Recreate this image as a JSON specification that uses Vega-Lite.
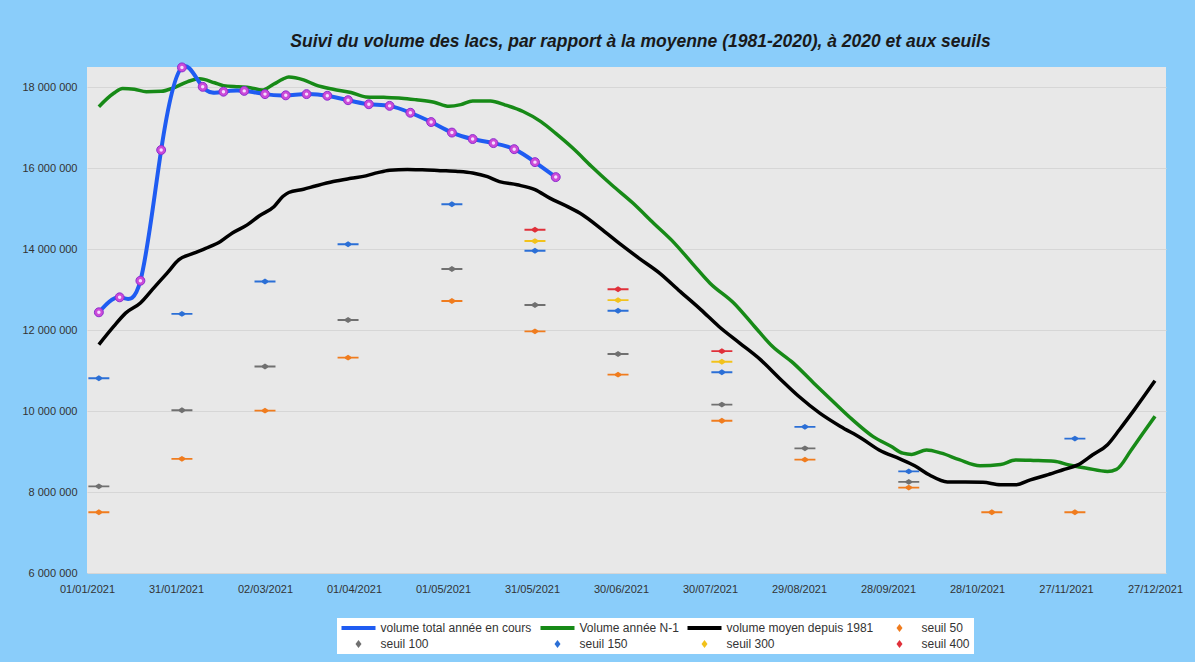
{
  "$schema": "https://vega.github.io/schema/vega-lite/v6.json",
  "width": 1079,
  "height": 506,
  "autosize": {"type": "none"},
  "padding": {"left": 87, "top": 67, "right": 29, "bottom": 89},
  "background": "#8acdfa",
  "title": {
    "text": "Suivi du volume des lacs, par rapport à la moyenne (1981-2020), à 2020 et aux seuils",
    "font": "Liberation Sans",
    "fontSize": 17.5,
    "fontStyle": "italic",
    "fontWeight": "bold",
    "color": "#1a1a1a",
    "anchor": "middle",
    "dx": 14,
    "offset": 8
  },
  "datasets": {
    "legende": [
      {"serie": "volume total année en cours"},
      {"serie": "Volume année N-1"},
      {"serie": "volume moyen depuis 1981"},
      {"serie": "seuil 50"},
      {"serie": "seuil 100"},
      {"serie": "seuil 150"},
      {"serie": "seuil 300"},
      {"serie": "seuil 400"}
    ],
    "courbes": [
      {"date": "2021-01-05", "serie": "volume total année en cours", "volume": 12440000},
      {"date": "2021-01-12", "serie": "volume total année en cours", "volume": 12810000},
      {"date": "2021-01-19", "serie": "volume total année en cours", "volume": 13220000},
      {"date": "2021-01-26", "serie": "volume total année en cours", "volume": 16450000},
      {"date": "2021-02-02", "serie": "volume total année en cours", "volume": 18490000},
      {"date": "2021-02-09", "serie": "volume total année en cours", "volume": 18010000},
      {"date": "2021-02-16", "serie": "volume total année en cours", "volume": 17890000},
      {"date": "2021-02-23", "serie": "volume total année en cours", "volume": 17910000},
      {"date": "2021-03-02", "serie": "volume total année en cours", "volume": 17830000},
      {"date": "2021-03-09", "serie": "volume total année en cours", "volume": 17800000},
      {"date": "2021-03-16", "serie": "volume total année en cours", "volume": 17830000},
      {"date": "2021-03-23", "serie": "volume total année en cours", "volume": 17790000},
      {"date": "2021-03-30", "serie": "volume total année en cours", "volume": 17680000},
      {"date": "2021-04-06", "serie": "volume total année en cours", "volume": 17580000},
      {"date": "2021-04-13", "serie": "volume total année en cours", "volume": 17540000},
      {"date": "2021-04-20", "serie": "volume total année en cours", "volume": 17370000},
      {"date": "2021-04-27", "serie": "volume total année en cours", "volume": 17140000},
      {"date": "2021-05-04", "serie": "volume total année en cours", "volume": 16880000},
      {"date": "2021-05-11", "serie": "volume total année en cours", "volume": 16720000},
      {"date": "2021-05-18", "serie": "volume total année en cours", "volume": 16620000},
      {"date": "2021-05-25", "serie": "volume total année en cours", "volume": 16470000},
      {"date": "2021-06-01", "serie": "volume total année en cours", "volume": 16150000},
      {"date": "2021-06-08", "serie": "volume total année en cours", "volume": 15780000},

      {"date": "2021-01-05", "serie": "Volume année N-1", "volume": 17520000},
      {"date": "2021-01-10", "serie": "Volume année N-1", "volume": 17850000},
      {"date": "2021-01-13", "serie": "Volume année N-1", "volume": 17970000},
      {"date": "2021-01-17", "serie": "Volume année N-1", "volume": 17950000},
      {"date": "2021-01-21", "serie": "Volume année N-1", "volume": 17890000},
      {"date": "2021-01-26", "serie": "Volume année N-1", "volume": 17900000},
      {"date": "2021-01-30", "serie": "Volume année N-1", "volume": 17980000},
      {"date": "2021-02-04", "serie": "Volume année N-1", "volume": 18140000},
      {"date": "2021-02-08", "serie": "Volume année N-1", "volume": 18210000},
      {"date": "2021-02-13", "serie": "Volume année N-1", "volume": 18110000},
      {"date": "2021-02-16", "serie": "Volume année N-1", "volume": 18040000},
      {"date": "2021-02-21", "serie": "Volume année N-1", "volume": 18010000},
      {"date": "2021-02-25", "serie": "Volume année N-1", "volume": 17990000},
      {"date": "2021-03-01", "serie": "Volume année N-1", "volume": 17930000},
      {"date": "2021-03-05", "serie": "Volume année N-1", "volume": 18080000},
      {"date": "2021-03-08", "serie": "Volume année N-1", "volume": 18200000},
      {"date": "2021-03-10", "serie": "Volume année N-1", "volume": 18250000},
      {"date": "2021-03-15", "serie": "Volume année N-1", "volume": 18180000},
      {"date": "2021-03-19", "serie": "Volume année N-1", "volume": 18060000},
      {"date": "2021-03-25", "serie": "Volume année N-1", "volume": 17950000},
      {"date": "2021-03-31", "serie": "Volume année N-1", "volume": 17870000},
      {"date": "2021-04-05", "serie": "Volume année N-1", "volume": 17760000},
      {"date": "2021-04-11", "serie": "Volume année N-1", "volume": 17750000},
      {"date": "2021-04-17", "serie": "Volume année N-1", "volume": 17730000},
      {"date": "2021-04-22", "serie": "Volume année N-1", "volume": 17690000},
      {"date": "2021-04-28", "serie": "Volume année N-1", "volume": 17630000},
      {"date": "2021-05-03", "serie": "Volume année N-1", "volume": 17530000},
      {"date": "2021-05-07", "serie": "Volume année N-1", "volume": 17570000},
      {"date": "2021-05-11", "serie": "Volume année N-1", "volume": 17660000},
      {"date": "2021-05-17", "serie": "Volume année N-1", "volume": 17660000},
      {"date": "2021-05-22", "serie": "Volume année N-1", "volume": 17560000},
      {"date": "2021-05-28", "serie": "Volume année N-1", "volume": 17400000},
      {"date": "2021-06-03", "serie": "Volume année N-1", "volume": 17150000},
      {"date": "2021-06-08", "serie": "Volume année N-1", "volume": 16860000},
      {"date": "2021-06-14", "serie": "Volume année N-1", "volume": 16480000},
      {"date": "2021-06-20", "serie": "Volume année N-1", "volume": 16050000},
      {"date": "2021-06-27", "serie": "Volume année N-1", "volume": 15580000},
      {"date": "2021-07-04", "serie": "Volume année N-1", "volume": 15140000},
      {"date": "2021-07-11", "serie": "Volume année N-1", "volume": 14640000},
      {"date": "2021-07-18", "serie": "Volume année N-1", "volume": 14150000},
      {"date": "2021-07-24", "serie": "Volume année N-1", "volume": 13650000},
      {"date": "2021-07-30", "serie": "Volume année N-1", "volume": 13160000},
      {"date": "2021-08-07", "serie": "Volume année N-1", "volume": 12670000},
      {"date": "2021-08-14", "serie": "Volume année N-1", "volume": 12090000},
      {"date": "2021-08-20", "serie": "Volume année N-1", "volume": 11600000},
      {"date": "2021-08-27", "serie": "Volume année N-1", "volume": 11190000},
      {"date": "2021-09-03", "serie": "Volume année N-1", "volume": 10690000},
      {"date": "2021-09-10", "serie": "Volume année N-1", "volume": 10200000},
      {"date": "2021-09-16", "serie": "Volume année N-1", "volume": 9790000},
      {"date": "2021-09-23", "serie": "Volume année N-1", "volume": 9370000},
      {"date": "2021-09-29", "serie": "Volume année N-1", "volume": 9130000},
      {"date": "2021-10-03", "serie": "Volume année N-1", "volume": 8960000},
      {"date": "2021-10-06", "serie": "Volume année N-1", "volume": 8930000},
      {"date": "2021-10-11", "serie": "Volume année N-1", "volume": 9040000},
      {"date": "2021-10-16", "serie": "Volume année N-1", "volume": 8960000},
      {"date": "2021-10-22", "serie": "Volume année N-1", "volume": 8800000},
      {"date": "2021-10-29", "serie": "Volume année N-1", "volume": 8650000},
      {"date": "2021-11-05", "serie": "Volume année N-1", "volume": 8680000},
      {"date": "2021-11-10", "serie": "Volume année N-1", "volume": 8790000},
      {"date": "2021-11-16", "serie": "Volume année N-1", "volume": 8780000},
      {"date": "2021-11-23", "serie": "Volume année N-1", "volume": 8760000},
      {"date": "2021-11-28", "serie": "Volume année N-1", "volume": 8670000},
      {"date": "2021-12-04", "serie": "Volume année N-1", "volume": 8590000},
      {"date": "2021-12-11", "serie": "Volume année N-1", "volume": 8510000},
      {"date": "2021-12-14", "serie": "Volume année N-1", "volume": 8560000},
      {"date": "2021-12-19", "serie": "Volume année N-1", "volume": 9040000},
      {"date": "2021-12-23", "serie": "Volume année N-1", "volume": 9460000},
      {"date": "2021-12-27", "serie": "Volume année N-1", "volume": 9870000},

      {"date": "2021-01-05", "serie": "volume moyen depuis 1981", "volume": 11640000},
      {"date": "2021-01-10", "serie": "volume moyen depuis 1981", "volume": 12090000},
      {"date": "2021-01-14", "serie": "volume moyen depuis 1981", "volume": 12420000},
      {"date": "2021-01-19", "serie": "volume moyen depuis 1981", "volume": 12670000},
      {"date": "2021-01-23", "serie": "volume moyen depuis 1981", "volume": 13000000},
      {"date": "2021-01-28", "serie": "volume moyen depuis 1981", "volume": 13410000},
      {"date": "2021-02-01", "serie": "volume moyen depuis 1981", "volume": 13740000},
      {"date": "2021-02-06", "serie": "volume moyen depuis 1981", "volume": 13900000},
      {"date": "2021-02-10", "serie": "volume moyen depuis 1981", "volume": 14020000},
      {"date": "2021-02-15", "serie": "volume moyen depuis 1981", "volume": 14190000},
      {"date": "2021-02-19", "serie": "volume moyen depuis 1981", "volume": 14400000},
      {"date": "2021-02-24", "serie": "volume moyen depuis 1981", "volume": 14600000},
      {"date": "2021-02-28", "serie": "volume moyen depuis 1981", "volume": 14820000},
      {"date": "2021-03-05", "serie": "volume moyen depuis 1981", "volume": 15050000},
      {"date": "2021-03-08", "serie": "volume moyen depuis 1981", "volume": 15300000},
      {"date": "2021-03-10", "serie": "volume moyen depuis 1981", "volume": 15400000},
      {"date": "2021-03-15", "serie": "volume moyen depuis 1981", "volume": 15480000},
      {"date": "2021-03-19", "serie": "volume moyen depuis 1981", "volume": 15560000},
      {"date": "2021-03-25", "serie": "volume moyen depuis 1981", "volume": 15670000},
      {"date": "2021-03-31", "serie": "volume moyen depuis 1981", "volume": 15750000},
      {"date": "2021-04-05", "serie": "volume moyen depuis 1981", "volume": 15810000},
      {"date": "2021-04-09", "serie": "volume moyen depuis 1981", "volume": 15890000},
      {"date": "2021-04-13", "serie": "volume moyen depuis 1981", "volume": 15950000},
      {"date": "2021-04-19", "serie": "volume moyen depuis 1981", "volume": 15970000},
      {"date": "2021-04-24", "serie": "volume moyen depuis 1981", "volume": 15960000},
      {"date": "2021-04-30", "serie": "volume moyen depuis 1981", "volume": 15940000},
      {"date": "2021-05-06", "serie": "volume moyen depuis 1981", "volume": 15920000},
      {"date": "2021-05-11", "serie": "volume moyen depuis 1981", "volume": 15880000},
      {"date": "2021-05-16", "serie": "volume moyen depuis 1981", "volume": 15790000},
      {"date": "2021-05-20", "serie": "volume moyen depuis 1981", "volume": 15670000},
      {"date": "2021-05-26", "serie": "volume moyen depuis 1981", "volume": 15590000},
      {"date": "2021-06-01", "serie": "volume moyen depuis 1981", "volume": 15470000},
      {"date": "2021-06-06", "serie": "volume moyen depuis 1981", "volume": 15260000},
      {"date": "2021-06-12", "serie": "volume moyen depuis 1981", "volume": 15050000},
      {"date": "2021-06-17", "serie": "volume moyen depuis 1981", "volume": 14850000},
      {"date": "2021-06-23", "serie": "volume moyen depuis 1981", "volume": 14520000},
      {"date": "2021-06-30", "serie": "volume moyen depuis 1981", "volume": 14110000},
      {"date": "2021-07-06", "serie": "volume moyen depuis 1981", "volume": 13780000},
      {"date": "2021-07-13", "serie": "volume moyen depuis 1981", "volume": 13410000},
      {"date": "2021-07-20", "serie": "volume moyen depuis 1981", "volume": 12950000},
      {"date": "2021-07-27", "serie": "volume moyen depuis 1981", "volume": 12500000},
      {"date": "2021-08-02", "serie": "volume moyen depuis 1981", "volume": 12090000},
      {"date": "2021-08-09", "serie": "volume moyen depuis 1981", "volume": 11680000},
      {"date": "2021-08-16", "serie": "volume moyen depuis 1981", "volume": 11270000},
      {"date": "2021-08-23", "serie": "volume moyen depuis 1981", "volume": 10770000},
      {"date": "2021-08-29", "serie": "volume moyen depuis 1981", "volume": 10360000},
      {"date": "2021-09-05", "serie": "volume moyen depuis 1981", "volume": 9950000},
      {"date": "2021-09-12", "serie": "volume moyen depuis 1981", "volume": 9620000},
      {"date": "2021-09-19", "serie": "volume moyen depuis 1981", "volume": 9330000},
      {"date": "2021-09-25", "serie": "volume moyen depuis 1981", "volume": 9040000},
      {"date": "2021-10-02", "serie": "volume moyen depuis 1981", "volume": 8820000},
      {"date": "2021-10-07", "serie": "volume moyen depuis 1981", "volume": 8650000},
      {"date": "2021-10-12", "serie": "volume moyen depuis 1981", "volume": 8420000},
      {"date": "2021-10-18", "serie": "volume moyen depuis 1981", "volume": 8250000},
      {"date": "2021-10-24", "serie": "volume moyen depuis 1981", "volume": 8250000},
      {"date": "2021-10-30", "serie": "volume moyen depuis 1981", "volume": 8240000},
      {"date": "2021-11-05", "serie": "volume moyen depuis 1981", "volume": 8180000},
      {"date": "2021-11-10", "serie": "volume moyen depuis 1981", "volume": 8180000},
      {"date": "2021-11-15", "serie": "volume moyen depuis 1981", "volume": 8300000},
      {"date": "2021-11-21", "serie": "volume moyen depuis 1981", "volume": 8430000},
      {"date": "2021-11-26", "serie": "volume moyen depuis 1981", "volume": 8550000},
      {"date": "2021-12-01", "serie": "volume moyen depuis 1981", "volume": 8670000},
      {"date": "2021-12-06", "serie": "volume moyen depuis 1981", "volume": 8920000},
      {"date": "2021-12-11", "serie": "volume moyen depuis 1981", "volume": 9170000},
      {"date": "2021-12-15", "serie": "volume moyen depuis 1981", "volume": 9540000},
      {"date": "2021-12-20", "serie": "volume moyen depuis 1981", "volume": 10030000},
      {"date": "2021-12-27", "serie": "volume moyen depuis 1981", "volume": 10750000}
    ],
    "seuils": [
      {"date": "2021-01-05", "serie": "seuil 150", "volume": 10810000},
      {"date": "2021-01-05", "serie": "seuil 100", "volume": 8140000},
      {"date": "2021-01-05", "serie": "seuil 50", "volume": 7500000},
      {"date": "2021-02-02", "serie": "seuil 150", "volume": 12400000},
      {"date": "2021-02-02", "serie": "seuil 100", "volume": 10020000},
      {"date": "2021-02-02", "serie": "seuil 50", "volume": 8820000},
      {"date": "2021-03-02", "serie": "seuil 150", "volume": 13200000},
      {"date": "2021-03-02", "serie": "seuil 100", "volume": 11100000},
      {"date": "2021-03-02", "serie": "seuil 50", "volume": 10010000},
      {"date": "2021-03-30", "serie": "seuil 150", "volume": 14120000},
      {"date": "2021-03-30", "serie": "seuil 100", "volume": 12250000},
      {"date": "2021-03-30", "serie": "seuil 50", "volume": 11320000},
      {"date": "2021-05-04", "serie": "seuil 150", "volume": 15110000},
      {"date": "2021-05-04", "serie": "seuil 100", "volume": 13510000},
      {"date": "2021-05-04", "serie": "seuil 50", "volume": 12720000},
      {"date": "2021-06-01", "serie": "seuil 400", "volume": 14480000},
      {"date": "2021-06-01", "serie": "seuil 300", "volume": 14200000},
      {"date": "2021-06-01", "serie": "seuil 150", "volume": 13960000},
      {"date": "2021-06-01", "serie": "seuil 100", "volume": 12620000},
      {"date": "2021-06-01", "serie": "seuil 50", "volume": 11970000},
      {"date": "2021-06-29", "serie": "seuil 400", "volume": 13010000},
      {"date": "2021-06-29", "serie": "seuil 300", "volume": 12740000},
      {"date": "2021-06-29", "serie": "seuil 150", "volume": 12480000},
      {"date": "2021-06-29", "serie": "seuil 100", "volume": 11410000},
      {"date": "2021-06-29", "serie": "seuil 50", "volume": 10900000},
      {"date": "2021-08-03", "serie": "seuil 400", "volume": 11480000},
      {"date": "2021-08-03", "serie": "seuil 300", "volume": 11220000},
      {"date": "2021-08-03", "serie": "seuil 150", "volume": 10960000},
      {"date": "2021-08-03", "serie": "seuil 100", "volume": 10160000},
      {"date": "2021-08-03", "serie": "seuil 50", "volume": 9760000},
      {"date": "2021-08-31", "serie": "seuil 150", "volume": 9610000},
      {"date": "2021-08-31", "serie": "seuil 100", "volume": 9080000},
      {"date": "2021-08-31", "serie": "seuil 50", "volume": 8800000},
      {"date": "2021-10-05", "serie": "seuil 150", "volume": 8510000},
      {"date": "2021-10-05", "serie": "seuil 100", "volume": 8250000},
      {"date": "2021-10-05", "serie": "seuil 50", "volume": 8110000},
      {"date": "2021-11-02", "serie": "seuil 50", "volume": 7500000},
      {"date": "2021-11-30", "serie": "seuil 150", "volume": 9320000},
      {"date": "2021-11-30", "serie": "seuil 50", "volume": 7500000}
    ]
  },
  "encoding": {
    "x": {
      "field": "date",
      "type": "temporal",
      "scale": {
        "type": "utc",
        "domain": [
          {"year": 2021, "month": 1, "date": 1, "utc": true},
          {"year": 2021, "month": 12, "date": 30, "hours": 17, "utc": true}
        ]
      },
      "axis": {
        "title": null,
        "format": "%d/%m/%Y",
        "values": [
          {"year": 2021, "month": 1, "date": 1, "utc": true},
          {"year": 2021, "month": 1, "date": 31, "utc": true},
          {"year": 2021, "month": 3, "date": 2, "utc": true},
          {"year": 2021, "month": 4, "date": 1, "utc": true},
          {"year": 2021, "month": 5, "date": 1, "utc": true},
          {"year": 2021, "month": 5, "date": 31, "utc": true},
          {"year": 2021, "month": 6, "date": 30, "utc": true},
          {"year": 2021, "month": 7, "date": 30, "utc": true},
          {"year": 2021, "month": 8, "date": 29, "utc": true},
          {"year": 2021, "month": 9, "date": 28, "utc": true},
          {"year": 2021, "month": 10, "date": 28, "utc": true},
          {"year": 2021, "month": 11, "date": 27, "utc": true},
          {"year": 2021, "month": 12, "date": 27, "utc": true}
        ],
        "grid": false,
        "ticks": false,
        "domain": false,
        "labelPadding": 10,
        "labelFont": "Liberation Sans",
        "labelFontSize": 11,
        "labelColor": "#333333",
        "labelOverlap": false,
        "labelFlush": false
      }
    },
    "y": {
      "field": "volume",
      "type": "quantitative",
      "scale": {"domain": [6000000, 18500000], "nice": false, "zero": false},
      "axis": {
        "title": null,
        "values": [6000000, 8000000, 10000000, 12000000, 14000000, 16000000, 18000000],
        "format": ",d",
        "grid": true,
        "gridColor": "#d6d6d6",
        "gridWidth": 1,
        "ticks": false,
        "domain": false,
        "labelPadding": 10,
        "labelFont": "Liberation Sans",
        "labelFontSize": 11,
        "labelColor": "#333333"
      }
    }
  },
  "layer": [
    {
      "data": {"name": "seuils"},
      "mark": {
        "type": "point",
        "filled": true,
        "opacity": 1,
        "size": 440,
        "shape": "M -1 -0.09 L 1 -0.09 L 1 0.09 L -1 0.09 Z M -0.45 0 L 0 -0.28 L 0.45 0 L 0 0.28 Z"
      },
      "encoding": {
        "color": {
          "condition": [
            {"test": "datum.serie == 'seuil 50'", "value": "#f07c1e"},
            {"test": "datum.serie == 'seuil 100'", "value": "#707070"},
            {"test": "datum.serie == 'seuil 300'", "value": "#f2c21b"},
            {"test": "datum.serie == 'seuil 400'", "value": "#e0303a"}
          ],
          "value": "#2b6fd6"
        }
      }
    },
    {
      "data": {"name": "courbes"},
      "transform": [{"filter": "datum.serie == 'Volume année N-1'"}],
      "mark": {"type": "line", "strokeWidth": 3.5, "interpolate": "monotone", "color": "#178a17"}
    },
    {
      "data": {"name": "courbes"},
      "transform": [{"filter": "datum.serie == 'volume moyen depuis 1981'"}],
      "mark": {"type": "line", "strokeWidth": 3.5, "interpolate": "monotone", "color": "#000000"}
    },
    {
      "data": {"name": "courbes"},
      "transform": [{"filter": "datum.serie == 'volume total année en cours'"}],
      "mark": {"type": "line", "strokeWidth": 4, "interpolate": "natural", "color": "#1f5cf2"}
    },
    {
      "data": {"name": "courbes"},
      "transform": [{"filter": "datum.serie == 'volume total année en cours'"}],
      "mark": {"type": "point", "filled": true, "opacity": 1, "size": 80, "color": "#cc4ad8", "stroke": "#8b2fd0", "strokeWidth": 1}
    },
    {
      "data": {"name": "courbes"},
      "transform": [{"filter": "datum.serie == 'volume total année en cours'"}],
      "mark": {"type": "point", "filled": true, "opacity": 1, "size": 12, "color": "#f6dcff"}
    },
    {
      "data": {"name": "legende"},
      "mark": {"type": "point", "filled": true, "opacity": 1, "size": 100},
      "encoding": {
        "color": {
          "field": "serie",
          "type": "nominal",
          "scale": {
            "domain": ["volume total année en cours", "Volume année N-1", "volume moyen depuis 1981", "seuil 50", "seuil 100", "seuil 150", "seuil 300", "seuil 400"],
            "range": ["#1f5cf2", "#178a17", "#000000", "#f07c1e", "#707070", "#2b6fd6", "#f2c21b", "#e0303a"]
          },
          "legend": {
            "title": null,
            "orient": "none",
            "legendX": 250,
            "legendY": 551,
            "direction": "horizontal",
            "columns": 4,
            "fillColor": "#ffffff",
            "padding": 4,
            "columnPadding": 8,
            "rowPadding": 4,
            "symbolStrokeWidth": 0,
            "symbolOffset": 11.5,
            "labelOffset": 16,
            "labelFont": "Liberation Sans",
            "labelFontSize": 12,
            "labelColor": "#333333",
            "labelLimit": 300
          }
        },
        "shape": {
          "field": "serie",
          "type": "nominal",
          "scale": {
            "domain": ["volume total année en cours", "Volume année N-1", "volume moyen depuis 1981", "seuil 50", "seuil 100", "seuil 150", "seuil 300", "seuil 400"],
            "range": [
              "M -3.4 -0.38 L 3.4 -0.38 L 3.4 0.38 L -3.4 0.38 Z",
              "M -3.4 -0.38 L 3.4 -0.38 L 3.4 0.38 L -3.4 0.38 Z",
              "M -3.4 -0.38 L 3.4 -0.38 L 3.4 0.38 L -3.4 0.38 Z",
              "M -0.6 0 L 0 -0.8 L 0.6 0 L 0 0.8 Z",
              "M -0.6 0 L 0 -0.8 L 0.6 0 L 0 0.8 Z",
              "M -0.6 0 L 0 -0.8 L 0.6 0 L 0 0.8 Z",
              "M -0.6 0 L 0 -0.8 L 0.6 0 L 0 0.8 Z",
              "M -0.6 0 L 0 -0.8 L 0.6 0 L 0 0.8 Z"
            ]
          },
          "legend": {
            "title": null,
            "orient": "none",
            "legendX": 250,
            "legendY": 551,
            "direction": "horizontal",
            "columns": 4,
            "fillColor": "#ffffff",
            "padding": 4,
            "columnPadding": 8,
            "rowPadding": 4,
            "symbolStrokeWidth": 0,
            "symbolOffset": 11.5,
            "labelOffset": 16,
            "labelFont": "Liberation Sans",
            "labelFontSize": 12,
            "labelColor": "#333333",
            "labelLimit": 300
          }
        }
      }
    }
  ],
  "config": {
    "view": {"stroke": null, "fill": "#e8e8e8"},
    "locale": {
      "number": {"decimal": ",", "thousands": " ", "grouping": [3], "currency": ["", " €"]}
    }
  }
}
